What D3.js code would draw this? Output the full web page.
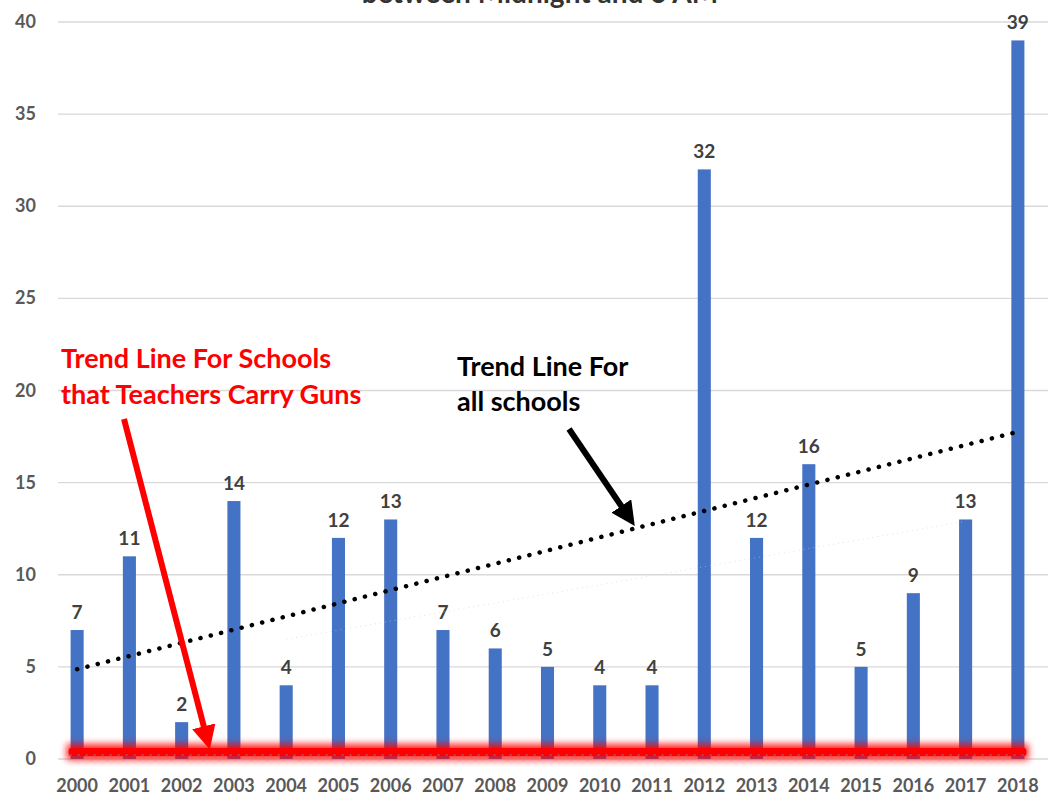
<!DOCTYPE html>
<html>
<head>
<meta charset="utf-8">
<script src="https://cdn.jsdelivr.net/npm/d3@7"></script>
<style>
  body { margin: 0; background: #fff; }
  svg { display: block; font-family: Lato, "Open Sans", sans-serif; }
</style>
</head>
<body>
<div class="chart"></div>
<script>
// data
const years = ["2000","2001","2002","2003","2004","2005","2006","2007","2008","2009",
               "2010","2011","2012","2013","2014","2015","2016","2017","2018"]
const counts = [7, 11, 2, 14, 4, 12, 13, 7, 6, 5, 4, 4, 32, 12, 16, 5, 9, 13, 39]
const yTicks = [0, 5, 10, 15, 20, 25, 30, 35, 40]
const teacherTrend = [0, 0]   // start / end of the red "teachers carry guns" line

let width = 1048, height = 799

let svg = d3.select(".chart")
  .append("svg")
  .attr("width", width)
  .attr("height", height)

let x = d3.scaleBand()
  .domain(years)
  .range([51, 1044])
  .paddingInner(0.75)
  .paddingOuter(0.375)

let y = d3.scaleLinear()
  .domain([0, 40])
  .range([759, 22])

let defs = svg.append("defs")
defs.append("filter").attr("id", "glow")
  .attr("filterUnits", "userSpaceOnUse")
  .attr("x", 0).attr("y", 700).attr("width", width).attr("height", 99)
  .append("feGaussianBlur").attr("stdDeviation", 3.5)

function arrowHead(id, color) {
  defs.append("marker")
    .attr("id", id)
    .attr("viewBox", "0 0 10 10")
    .attr("refX", 2).attr("refY", 5)
    .attr("markerWidth", 4).attr("markerHeight", 4)
    .attr("orient", "auto")
    .append("path")
    .attr("d", "M0,0 L10,5 L0,10 z")
    .attr("fill", color)
}
arrowHead("arrRed", "#ff0000")
arrowHead("arrBlack", "#000")

// title, mostly cut off at the top
svg.append("text")
  .attr("x", 540).attr("y", 3)
  .attr("text-anchor", "middle")
  .style("font-size", "28px").style("font-weight", "bold")
  .style("fill", "#333")
  .text("between Midnight and 6 AM")

// gridlines
svg.append("g").selectAll("line")
  .data(yTicks)
  .enter().append("line")
  .attr("x1", 58).attr("x2", width)
  .attr("y1", d => y(d)).attr("y2", d => y(d))
  .attr("stroke", "#d9d9d9").attr("stroke-width", 1.3)

svg.append("g").selectAll("text")
  .data(yTicks)
  .enter().append("text")
  .attr("x", 36).attr("y", d => y(d) + 6)
  .attr("text-anchor", "end")
  .style("font-size", "18px").style("font-weight", "bold")
  .style("fill", "#595959")
  .text(d => d)

// bars
svg.append("g").selectAll("rect")
  .data(counts)
  .enter().append("rect")
  .attr("x", (d, i) => x(years[i]))
  .attr("width", x.bandwidth())
  .attr("y", d => y(d))
  .attr("height", d => y(0) - y(d))
  .attr("fill", "#4472c4")

svg.append("g").selectAll("text")
  .data(counts)
  .enter().append("text")
  .attr("x", (d, i) => x(years[i]) + x.bandwidth() / 2)
  .attr("y", d => y(d) - 11)
  .attr("text-anchor", "middle")
  .style("font-size", "19px").style("font-weight", "bold")
  .style("fill", "#404040")
  .text(d => d)

svg.append("g").selectAll("text")
  .data(years)
  .enter().append("text")
  .attr("x", d => x(d) + x.bandwidth() / 2)
  .attr("y", 792)
  .attr("text-anchor", "middle")
  .style("font-size", "18px").style("font-weight", "bold")
  .style("fill", "#595959")
  .text(d => d)

// least squares trend for all schools
let n = counts.length
let mx = (n - 1) / 2
let my = d3.mean(counts)
let sxy = d3.sum(counts, (d, i) => (i - mx) * (d - my))
let sxx = d3.sum(counts, (d, i) => (i - mx) * (i - mx))
let slope = sxy / sxx
let icept = my - slope * mx
let cx = i => x(years[i]) + x.bandwidth() / 2

svg.append("line")
  .attr("x1", cx(0)).attr("y1", y(icept))
  .attr("x2", cx(n - 1)).attr("y2", y(icept + slope * (n - 1)))
  .attr("stroke", "#000").attr("stroke-width", 4.5)
  .attr("stroke-linecap", "round")
  .attr("stroke-dasharray", "0.1 10.5")

// faint ghost line
svg.append("line")
  .attr("x1", cx(4)).attr("y1", y(6.5))
  .attr("x2", cx(17)).attr("y2", y(12.9))
  .attr("stroke", "#ccc").attr("stroke-width", 1)
  .attr("stroke-dasharray", "1 4")
  .attr("opacity", 0.6)

// red trend line (teachers with guns), blurred glow under a solid core
let rx1 = x(years[0]) - 4, rx2 = x(years[n - 1]) + x.bandwidth() + 4
let ry = y(teacherTrend[0]) - 7
svg.append("rect")
  .attr("x", rx1).attr("width", rx2 - rx1)
  .attr("y", ry - 8).attr("height", 16)
  .attr("fill", "#ff0000").attr("opacity", 0.85)
  .attr("filter", "url(#glow)")
svg.append("rect")
  .attr("x", rx1 + 2).attr("width", rx2 - rx1 - 4)
  .attr("y", ry - 4).attr("height", 8)
  .attr("rx", 3)
  .attr("fill", "#ff0000")
svg.append("line")
  .attr("x1", rx1 + 3).attr("x2", rx2 - 3)
  .attr("y1", y(0) - 4).attr("y2", y(0) - 4)
  .attr("stroke", "#6a8fd6").attr("stroke-width", 1.5)
  .attr("stroke-dasharray", "2 6")
  .attr("opacity", 0.6)

// annotations
let redNote = svg.append("text")
  .style("font-size", "27px").style("font-weight", "bold")
  .style("fill", "#ff0000")
redNote.append("tspan").attr("x", 61).attr("y", 368).text("Trend Line For Schools")
redNote.append("tspan").attr("x", 61).attr("y", 404).text("that Teachers Carry Guns")

svg.append("line")
  .attr("x1", 124).attr("y1", 419)
  .attr("x2", 205).attr("y2", 731)
  .attr("stroke", "#ff0000").attr("stroke-width", 6)
  .attr("marker-end", "url(#arrRed)")

let blackNote = svg.append("text")
  .style("font-size", "27px").style("font-weight", "bold")
  .style("fill", "#000")
blackNote.append("tspan").attr("x", 457).attr("y", 376).text("Trend Line For")
blackNote.append("tspan").attr("x", 457).attr("y", 411).text("all schools")

svg.append("line")
  .attr("x1", 569).attr("y1", 429)
  .attr("x2", 624).attr("y2", 510)
  .attr("stroke", "#000").attr("stroke-width", 6)
  .attr("marker-end", "url(#arrBlack)")
</script>
</body>
</html>
